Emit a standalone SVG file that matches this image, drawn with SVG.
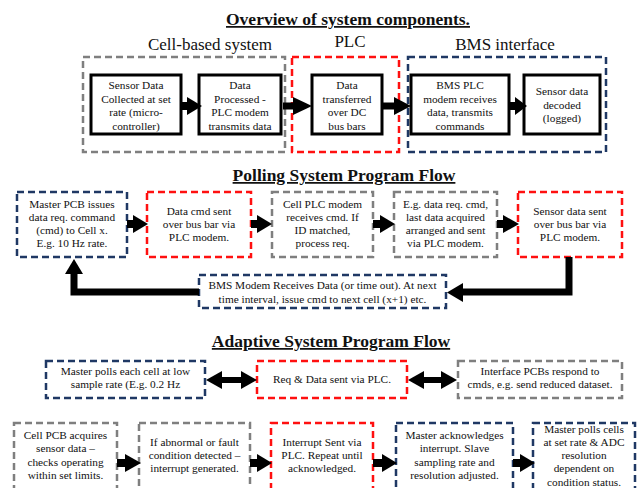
<svg xmlns="http://www.w3.org/2000/svg" width="642" height="488" viewBox="0 0 642 488">
<style>
text{font-family:"Liberation Serif","Times New Roman",serif;fill:#111;text-anchor:middle}
.t{font-size:11.3px}
.h{font-size:17.5px;font-weight:bold;text-decoration:underline}
.s{font-size:17px}
.g,.r,.n{fill:#fff;stroke-width:2.5;stroke-dasharray:7 4}
.g{stroke:#7f7f7f}.r{stroke:#ff1010}.n{stroke:#1f3864}
.b{fill:#fff;stroke:#000;stroke-width:3}
.a{fill:#000}
.sh{fill:none;stroke:#000;stroke-width:7}
</style>
<rect width="642" height="488" fill="#fff"/>

<!-- titles -->
<text class="h" x="348" y="25">Overview of system components.</text>
<text class="h" x="344" y="181">Polling System Program Flow</text>
<text class="h" x="331" y="347">Adaptive System Program Flow</text>
<text class="s" x="210" y="49.5">Cell-based system</text>
<text class="s" x="350" y="47">PLC</text>
<text class="s" x="505" y="50">BMS interface</text>

<!-- overview groups -->
<g id="grp-cell"><rect class="g" x="83" y="57" width="202" height="95"/></g>
<g id="grp-plc"><rect class="r" x="292" y="57" width="107" height="95"/></g>
<g id="grp-bms"><rect class="n" x="408" y="57" width="198" height="95"/></g>

<g id="ov1"><rect class="b" x="91" y="75" width="90" height="59"/>
<text class="t" x="136" y="89">Sensor Data</text><text class="t" x="136" y="102.5">Collected at set</text><text class="t" x="136" y="116">rate (micro-</text><text class="t" x="136" y="129.5">controller)</text></g>
<g id="ov2"><rect class="b" x="199" y="75" width="82" height="59"/>
<text class="t" x="240" y="89">Data</text><text class="t" x="240" y="102.5">Processed -</text><text class="t" x="240" y="116">PLC modem</text><text class="t" x="240" y="129.5">transmits data</text></g>
<g id="ov3"><rect class="b" x="312" y="75" width="70" height="59"/>
<text class="t" x="347" y="89">Data</text><text class="t" x="347" y="102.5">transferred</text><text class="t" x="347" y="116">over DC</text><text class="t" x="347" y="129.5">bus bars</text></g>
<g id="ov4"><rect class="b" x="411" y="75" width="98" height="59"/>
<text class="t" x="460" y="89">BMS PLC</text><text class="t" x="460" y="102.5">modem receives</text><text class="t" x="460" y="116">data, transmits</text><text class="t" x="460" y="129.5">commands</text></g>
<g id="ov5"><rect class="b" x="524" y="75" width="76" height="59"/>
<text class="t" x="562" y="95">Sensor data</text><text class="t" x="562" y="108.5">decoded</text><text class="t" x="562" y="122">(logged)</text></g>

<!-- polling -->
<g id="p1"><rect class="n" x="17" y="192" width="110" height="65"/>
<text class="t" x="72" y="208">Master PCB issues</text><text class="t" x="72" y="221">data req. command</text><text class="t" x="72" y="234">(cmd) to Cell x.</text><text class="t" x="72" y="247">E.g. 10 Hz rate.</text></g>
<g id="p2"><rect class="r" x="147" y="192" width="104" height="65"/>
<text class="t" x="199" y="215">Data cmd sent</text><text class="t" x="199" y="228">over bus bar via</text><text class="t" x="199" y="241">PLC modem.</text></g>
<g id="p3"><rect class="g" x="272" y="192" width="101" height="65"/>
<text class="t" x="322.5" y="208">Cell PLC modem</text><text class="t" x="322.5" y="221">receives cmd. If</text><text class="t" x="322.5" y="234">ID matched,</text><text class="t" x="322.5" y="247">process req.</text></g>
<g id="p4"><rect class="g" x="394" y="192" width="103" height="65"/>
<text class="t" x="445.5" y="208">E.g. data req. cmd,</text><text class="t" x="445.5" y="221">last data acquired</text><text class="t" x="445.5" y="234">arranged and sent</text><text class="t" x="445.5" y="247">via PLC modem.</text></g>
<g id="p5"><rect class="r" x="518" y="192" width="104" height="65"/>
<text class="t" x="570" y="215">Sensor data sent</text><text class="t" x="570" y="228">over bus bar via</text><text class="t" x="570" y="241">PLC modem.</text></g>
<g id="p6"><rect class="n" x="199" y="275" width="247" height="33"/>
<text class="t" x="322.5" y="289">BMS Modem Receives Data (or time out). At next</text><text class="t" x="322.5" y="303">time interval, issue cmd to next cell (x+1) etc.</text></g>

<!-- adaptive row 1 -->
<g id="a1"><rect class="n" x="46" y="361" width="159" height="37"/>
<text class="t" x="125.5" y="375">Master polls each cell at low</text><text class="t" x="125.5" y="388">sample rate (E.g. 0.2 Hz</text></g>
<g id="a2"><rect class="r" x="257" y="361" width="150" height="37"/>
<text class="t" x="332" y="383">Req &amp; Data sent via PLC.</text></g>
<g id="a3"><rect class="g" x="458" y="361" width="164" height="37"/>
<text class="t" x="540" y="375">Interface PCBs respond to</text><text class="t" x="540" y="388">cmds, e.g. send reduced dataset.</text></g>

<!-- adaptive row 2 -->
<g id="b1"><rect class="g" x="14" y="423" width="103" height="80"/>
<text class="t" x="65.5" y="439">Cell PCB acquires</text><text class="t" x="65.5" y="452">sensor data –</text><text class="t" x="65.5" y="466">checks operating</text><text class="t" x="65.5" y="479">within set limits.</text></g>
<g id="b2"><rect class="g" x="139" y="423" width="111" height="80"/>
<text class="t" x="194.5" y="446">If abnormal or fault</text><text class="t" x="194.5" y="459">condition detected –</text><text class="t" x="194.5" y="472">interrupt generated.</text></g>
<g id="b3"><rect class="r" x="271" y="423" width="102" height="80"/>
<text class="t" x="322" y="446">Interrupt Sent via</text><text class="t" x="322" y="459">PLC. Repeat until</text><text class="t" x="322" y="472">acknowledged.</text></g>
<g id="b4"><rect class="n" x="396" y="423" width="117" height="80"/>
<text class="t" x="454.5" y="439">Master acknowledges</text><text class="t" x="454.5" y="452">interrupt. Slave</text><text class="t" x="454.5" y="466">sampling rate and</text><text class="t" x="454.5" y="479">resolution adjusted.</text></g>
<g id="b5"><rect class="n" x="533" y="423" width="102" height="80"/>
<text class="t" x="584" y="433">Master polls cells</text><text class="t" x="584" y="446">at set rate &amp; ADC</text><text class="t" x="584" y="459">resolution</text><text class="t" x="584" y="472">dependent on</text><text class="t" x="584" y="485.5">condition status.</text></g>

<!-- connectors -->
<g id="connectors" class="a">
<rect x="181" y="102" width="8" height="8"/><polygon points="187,97 202,106 187,115"/>
<rect x="283" y="102.5" width="11" height="7"/><polygon points="293,97 312,106 293,115"/>
<rect x="382" y="102.5" width="13" height="7"/><polygon points="394,97 411,106 394,115"/>
<rect x="509" y="102" width="7" height="8"/><polygon points="515,97 527,106 515,115"/>

<rect x="127" y="220" width="8" height="8"/><polygon points="133,215 148,224 133,233"/>
<rect x="251" y="220" width="8" height="8"/><polygon points="257,215 272,224 257,233"/>
<rect x="373" y="220" width="8" height="8"/><polygon points="380,215 395,224 380,233"/>
<rect x="497" y="220" width="8" height="8"/><polygon points="503,215 519,224 503,233"/>

<path class="sh" d="M569,257 V292 H462"/><polygon points="463,283 447,292.5 463,302"/>
<path class="sh" d="M199,292 H74 V272"/><polygon points="65,274 74,259 83,274"/>

<rect x="220" y="377" width="24" height="6"/><polygon points="222,371 206,380 222,389"/><polygon points="241,371 257,380 241,389"/>
<rect x="422" y="377" width="22" height="6"/><polygon points="424,371 408,380 424,389"/><polygon points="441,371 457,380 441,389"/>

<rect x="117" y="459" width="9" height="8"/><polygon points="125,454 141,463 125,472"/>
<rect x="250" y="459" width="8" height="8"/><polygon points="257,454 272,463 257,472"/>
<rect x="373" y="459" width="10" height="8"/><polygon points="382,454 397,463 382,472"/>
<rect x="513" y="459" width="8" height="8"/><polygon points="520,454 535,463 520,472"/>
</g>
</svg>
